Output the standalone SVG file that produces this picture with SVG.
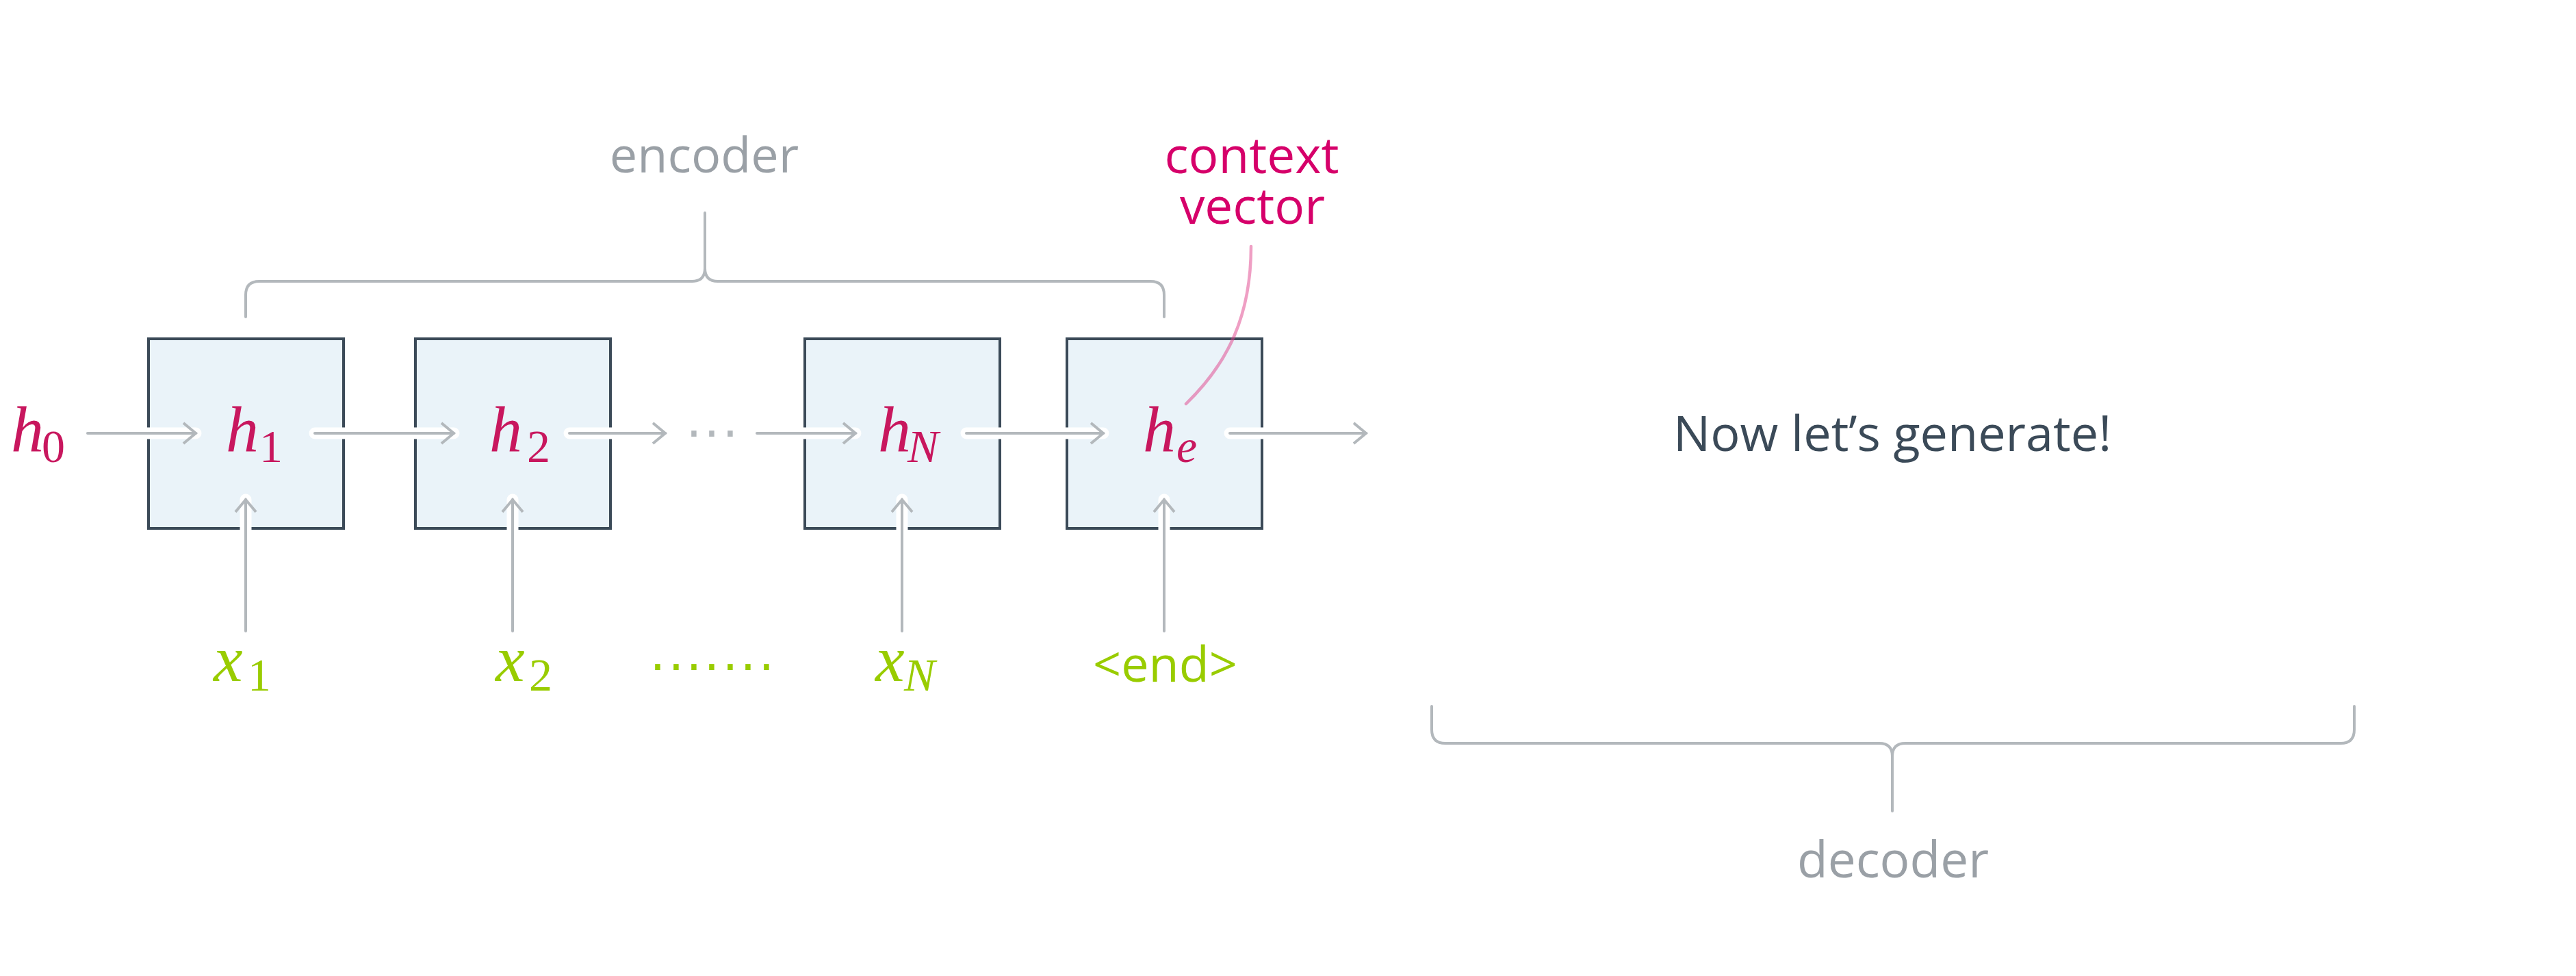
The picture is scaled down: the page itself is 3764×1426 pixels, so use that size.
<svg xmlns="http://www.w3.org/2000/svg" width="3764" height="1426" viewBox="0 0 3764 1426">
  <style>
    .box { fill: #eaf3f9; stroke: #3b4a58; stroke-width: 4; }
    .halo { stroke: #ffffff; stroke-width: 17; stroke-linecap: round; fill: none; }
    .arr { stroke: #b3b8bc; stroke-width: 4; stroke-linecap: round; fill: none; }
    .brace { stroke: #b3b8bc; stroke-width: 4; fill: none; stroke-linecap: round; }
    .sans { font-family: "Open Sans", "Noto Sans", "DejaVu Sans", sans-serif; }
    .gray { fill: #9aa0a6; font-size: 72px; }
    .dots { font-family: "DejaVu Sans", sans-serif; font-size: 72px; text-anchor: middle; }
  </style>
  <defs>
    <marker id="chev" markerUnits="userSpaceOnUse" markerWidth="40" markerHeight="40" refX="20" refY="20" orient="auto" overflow="visible">
      <path d="M2,5 L20,20 L2,35" fill="none" stroke="#b3b8bc" stroke-width="4" stroke-linecap="butt"/>
    </marker>
  </defs>
  <rect width="3764" height="1426" fill="#ffffff"/>

  <g id="node-h1"><rect class="box" x="217" y="495" width="285" height="277"/></g>
  <g id="node-h2"><rect class="box" x="607" y="495" width="285" height="277"/></g>
  <g id="node-hN"><rect class="box" x="1176" y="495" width="285" height="277"/></g>
  <g id="node-he"><rect class="box" x="1559" y="495" width="285" height="277"/></g>

  <g id="connectors">
    <g id="halos">
      <line class="halo" x1="128" y1="633" x2="286" y2="633"/>
      <line class="halo" x1="460" y1="633" x2="663" y2="633"/>
      <line class="halo" x1="832" y1="633" x2="972" y2="633"/>
      <line class="halo" x1="1106" y1="633" x2="1250" y2="633"/>
      <line class="halo" x1="1412" y1="633" x2="1612" y2="633"/>
      <line class="halo" x1="1797" y1="633" x2="1996" y2="633"/>
      <line class="halo" x1="359" y1="922" x2="359" y2="730"/>
      <line class="halo" x1="749" y1="922" x2="749" y2="730"/>
      <line class="halo" x1="1318" y1="922" x2="1318" y2="730"/>
      <line class="halo" x1="1701" y1="922" x2="1701" y2="730"/>
    </g>
    <line class="arr" x1="128" y1="633" x2="286" y2="633" marker-end="url(#chev)"/>
    <line class="arr" x1="460" y1="633" x2="663" y2="633" marker-end="url(#chev)"/>
    <line class="arr" x1="832" y1="633" x2="972" y2="633" marker-end="url(#chev)"/>
    <line class="arr" x1="1106" y1="633" x2="1250" y2="633" marker-end="url(#chev)"/>
    <line class="arr" x1="1412" y1="633" x2="1612" y2="633" marker-end="url(#chev)"/>
    <line class="arr" x1="1797" y1="633" x2="1996" y2="633" marker-end="url(#chev)"/>
    <line class="arr" x1="359" y1="922" x2="359" y2="730" marker-end="url(#chev)"/>
    <line class="arr" x1="749" y1="922" x2="749" y2="730" marker-end="url(#chev)"/>
    <line class="arr" x1="1318" y1="922" x2="1318" y2="730" marker-end="url(#chev)"/>
    <line class="arr" x1="1701" y1="922" x2="1701" y2="730" marker-end="url(#chev)"/>
    <path id="context-pointer" d="M1828,360 C1828,460 1795,530 1733,590" fill="none" stroke="#e0408a" stroke-opacity="0.5" stroke-width="4.5" stroke-linecap="round"/>
  </g>

  <g id="encoder-brace">
    <path class="brace" d="M359,463 V431 Q359,411 379,411 H1011 Q1030,411 1030,392 V311 M1030,392 Q1030,411 1049,411 H1681 Q1701,411 1701,431 V463"/>
    <text class="sans gray" x="1029" y="252" text-anchor="middle">encoder</text>
  </g>
  <g id="decoder-brace">
    <path class="brace" d="M2092,1032 V1066 Q2092,1086 2112,1086 H2746 Q2765,1086 2765,1105 V1185 M2765,1105 Q2765,1086 2784,1086 H3420 Q3440,1086 3440,1066 V1032"/>
    <text class="sans gray" x="2766" y="1282" text-anchor="middle" style="font-size:73px">decoder</text>
  </g>

  <g id="labels-h" font-family="'Liberation Serif', 'Times New Roman', serif" fill="#c8175e">
    <text x="16" y="660" font-size="96" font-style="italic">h</text><text x="61" y="675" font-size="68">0</text>
    <text x="330" y="660" font-size="96" font-style="italic">h</text><text x="379" y="675" font-size="68">1</text>
    <text x="715" y="660" font-size="96" font-style="italic">h</text><text x="770" y="675" font-size="68">2</text>
    <text x="1283" y="660" font-size="96" font-style="italic">h</text><text x="1326" y="675" font-size="68" font-style="italic">N</text>
    <text x="1670" y="660" font-size="96" font-style="italic">h</text><text x="1719" y="675" font-size="68" font-style="italic">e</text>
  </g>
  <text class="dots" x="1014 1040 1067" y="658" fill="#b3b8bc">···</text>

  <g id="labels-x" font-family="'Liberation Serif', 'Times New Roman', serif" fill="#99cc00">
    <text x="312" y="995" font-size="96" font-style="italic">x</text><text x="362" y="1009" font-size="68">1</text>
    <text x="724" y="995" font-size="96" font-style="italic">x</text><text x="773" y="1009" font-size="68">2</text>
    <text x="1279" y="995" font-size="96" font-style="italic">x</text><text x="1321" y="1009" font-size="68" font-style="italic">N</text>
  </g>
  <text class="sans" x="1597" y="996" font-size="72" fill="#99cc00">&lt;end&gt;</text>
  <text class="dots" x="961 988 1014 1040 1067 1093 1120" y="999" fill="#99cc00">·······</text>

  <g id="context-label">
    <text class="sans" font-size="73" fill="#d6006a" text-anchor="middle"><tspan x="1829" y="253">context</tspan><tspan x="1830" y="327">vector</tspan></text>
  </g>

  <g id="generate-label">
    <text class="sans" x="2445" y="659" font-size="72" fill="#3b4a58">Now let’s generate!</text>
  </g>
</svg>
